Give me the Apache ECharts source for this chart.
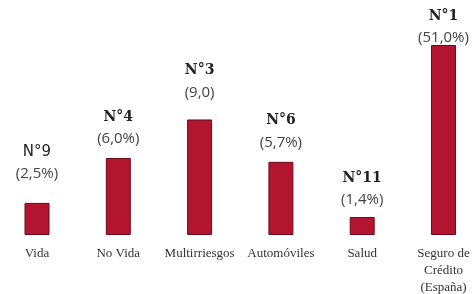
<!DOCTYPE html>
<html>
<head>
<meta charset="utf-8">
<script src="https://cdn.jsdelivr.net/npm/echarts@6/dist/echarts.min.js"></script>
<style>
  html, body { margin: 0; padding: 0; background: #fff; }
  #chart { width: 474px; height: 294px; }
</style>
</head>
<body>
<div id="chart"></div>
<script>
// datos del gráfico
const categories = ['Vida', 'No Vida', 'Multirriesgos', 'Automóviles', 'Salud', 'Seguro de\nCrédito\n(España)']
const ranks = ['N°9', 'N°4', 'N°3', 'N°6', 'N°11', 'N°1']
const shares = [2.5, 6.0, 9.0, 5.7, 1.4, 51.0]
const shareLabels = ['(2,5%)', '(6,0%)', '(9,0)', '(5,7%)', '(1,4%)', '(51,0%)']

const chart = echarts.init(document.getElementById('chart'))

// distancia de la etiqueta por barra
const labelDist = [18, 8, 16, 8, 6, -4]

const option = {
  animation: false,
  grid: { left: 37, right: 30.5, top: 45, bottom: 59, outerBoundsMode: 'none' },
  xAxis: {
    type: 'category',
    data: categories,
    boundaryGap: false,
    axisLine: { show: false },
    axisTick: { show: false },
    axisLabel: {
      interval: 0,
      margin: 10,
      color: '#333',
      fontFamily: 'Liberation Serif',
      fontSize: 13,
      lineHeight: 17
    }
  },
  yAxis: {
    type: 'value',
    min: 0,
    max: 51,
    show: false,
    splitLine: { show: false },
    // la barra de 51% aparece recortada en el original
    breaks: [{ start: 12, end: 48.2, gap: 0 }],
    breakArea: { show: false }
  },
  series: [
    {
      type: 'bar',
      barWidth: 25,
      data: shares.map((v, i) => ({
        value: v,
        label: {
          distance: labelDist[i],
          formatter: (i === 0 ? '{r|' : '{rb|') + ranks[i] + '}\n{p|' + shareLabels[i] + '}'
        }
      })),
      itemStyle: {
        color: '#b3142f',
        borderColor: '#6f0b1b',
        borderWidth: 1
      },
      label: {
        show: true,
        position: 'top',
        rich: {
          rb: { fontFamily: 'DejaVu Serif', fontWeight: 'bold', fontSize: 14, color: '#222', lineHeight: 22 },
          r: { fontFamily: 'DejaVu Sans', fontSize: 15, color: '#222', lineHeight: 22 },
          p: { fontFamily: 'Open Sans', fontSize: 15, color: '#444', lineHeight: 22 }
        }
      }
    }
  ]
}

chart.setOption(option)
</script>
</body>
</html>
